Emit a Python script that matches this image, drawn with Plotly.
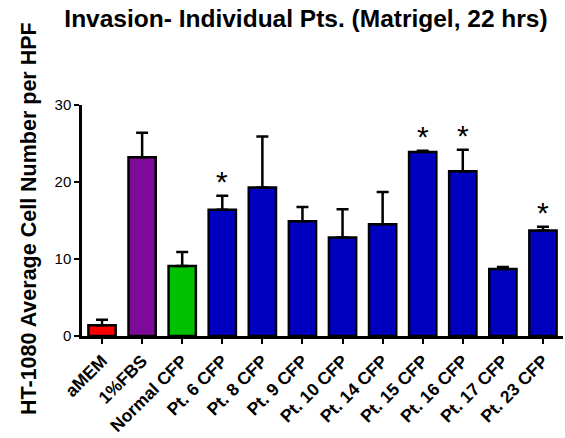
import plotly.graph_objects as go

categories = ["aMEM", "1%FBS", "Normal CFP", "Pt. 6 CFP", "Pt. 8 CFP", "Pt. 9 CFP",
              "Pt. 10 CFP", "Pt. 14 CFP", "Pt. 15 CFP", "Pt. 16 CFP", "Pt. 17 CFP", "Pt. 23 CFP"]
means = [1.4, 23.2, 9.1, 16.4, 19.3, 14.9, 12.8, 14.5, 23.9, 21.4, 8.7, 13.7]
errors = [0.7, 3.2, 1.8, 1.8, 6.6, 1.85, 3.65, 4.2, 0.15, 2.8, 0.25, 0.5]
colors = ["#ff0000", "#7d0a99", "#00c000"] + ["#0000c0"] * 9
significant = [False, False, False, True, False, False, False, False, True, True, False, True]

FONT = "Arial, Liberation Sans, sans-serif"

fig = go.Figure()
fig.add_trace(go.Bar(
    x=categories, y=means,
    marker=dict(color=colors, line=dict(color="black", width=2.5)),
    width=0.68,
    error_y=dict(type="data", symmetric=False, array=errors,
                 arrayminus=[0] * len(errors), color="black", thickness=2.5, width=6),
))

for c, m, e, s in zip(categories, means, errors, significant):
    if s:
        fig.add_annotation(x=c, y=m + e, text="*", showarrow=False, yanchor="bottom",
                           yshift=-4, font=dict(family=FONT, size=30, color="black"))

fig.add_annotation(xref="paper", yref="paper", x=(29 - 82) / 481, y=(336 - 219) / 231,
                   xanchor="center", yanchor="middle",
                   text="<b>HT-1080 Average Cell Number per HPF</b>", textangle=-90,
                   showarrow=False, font=dict(family=FONT, size=21.5, color="black"))

fig.update_layout(
    width=565, height=438,
    margin=dict(l=82, r=2, t=105, b=102),
    paper_bgcolor="white", plot_bgcolor="white",
    showlegend=False,
    title=dict(text="<b>Invasion- Individual Pts. (Matrigel, 22 hrs)</b>",
               x=306 / 565, xanchor="center", y=1 - 18 / 438, yanchor="middle",
               font=dict(family=FONT, size=24.5, color="black")),
    xaxis=dict(range=[-0.5, 11.5], showline=True, linecolor="black", linewidth=2.5,
               ticks="outside", ticklen=5, tickwidth=2, tickcolor="black",
               tickangle=-45, showgrid=False, automargin=False,
               tickfont=dict(family=FONT, size=17.5, color="black")),
    yaxis=dict(range=[0, 30], tickvals=[0, 10, 20, 30], showline=True, linecolor="black",
               linewidth=2.5, ticks="outside", ticklen=5, tickwidth=2, tickcolor="black",
               showgrid=False, zeroline=False, automargin=False,
               tickfont=dict(family=FONT, size=15, color="black")),
)
fig.update_xaxes(tickprefix="<b>", ticksuffix="</b>")
fig.update_yaxes(tickprefix="<b>", ticksuffix="</b>")

fig.write_html("out.html")
